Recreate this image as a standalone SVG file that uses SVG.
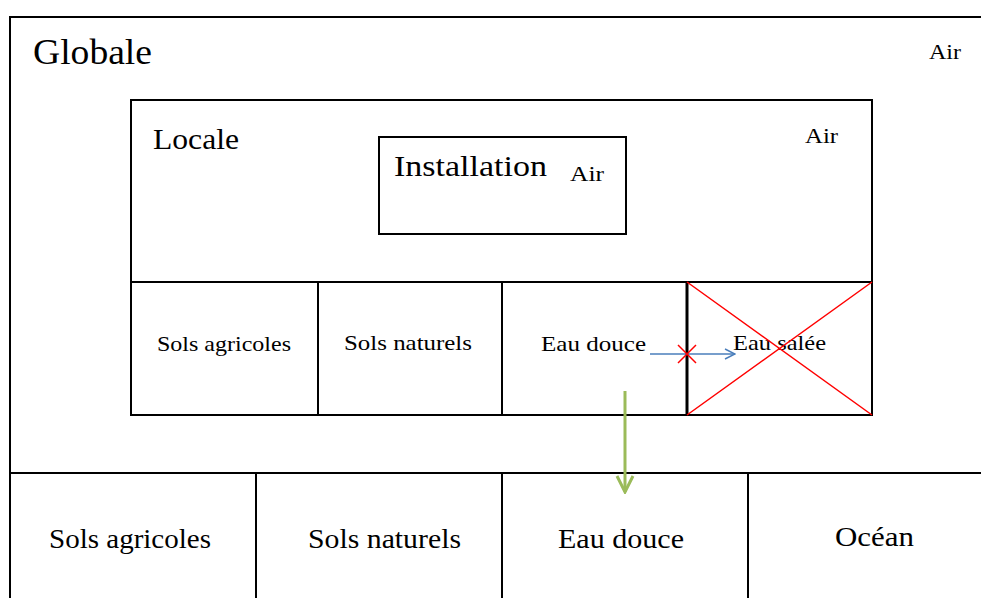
<svg xmlns="http://www.w3.org/2000/svg" width="981" height="598" viewBox="0 0 981 598">
  <defs>
    <style>
      .box { fill: none; stroke: #000; stroke-width: 2; }
      .t { font-family: "Liberation Serif", "DejaVu Serif", serif; fill: #000; }
      .cross { stroke: #ff0000; stroke-width: 1.5; fill: none; }
    </style>
    <marker id="headBlue" viewBox="0 0 12 12" refX="11" refY="6" markerWidth="12" markerHeight="12" markerUnits="userSpaceOnUse" orient="auto">
      <path d="M1,1 L11,6 L1,11" fill="none" stroke="#4a7ebb" stroke-width="1.5"/>
    </marker>
    <marker id="headGreen" viewBox="0 0 20 20" refX="18" refY="10" markerWidth="20" markerHeight="20" markerUnits="userSpaceOnUse" orient="auto">
      <path d="M2,2 L18,10 L2,18" fill="none" stroke="#9bbb59" stroke-width="3"/>
    </marker>
  </defs>
  <rect width="981" height="598" fill="#fff"/>

  <!-- Global compartment -->
  <g id="globale">
    <path class="box" d="M983,17 H10 V600"/>
    <text class="t" x="33" y="64" font-size="36" textLength="119" lengthAdjust="spacingAndGlyphs">Globale</text>
    <text class="t" x="929" y="59" font-size="22" textLength="32" lengthAdjust="spacingAndGlyphs">Air</text>
  </g>

  <!-- Global media row -->
  <g id="global-media">
    <path class="box" d="M10,473 H983 M256,473 V600 M502,473 V600 M748,473 V600"/>
    <text class="t" x="49" y="548" font-size="27" textLength="162" lengthAdjust="spacingAndGlyphs">Sols agricoles</text>
    <text class="t" x="308" y="548" font-size="27" textLength="153" lengthAdjust="spacingAndGlyphs">Sols naturels</text>
    <text class="t" x="558" y="548" font-size="27" textLength="126" lengthAdjust="spacingAndGlyphs">Eau douce</text>
    <text class="t" x="835" y="546" font-size="27" textLength="79" lengthAdjust="spacingAndGlyphs">Océan</text>
  </g>

  <!-- Local compartment -->
  <g id="locale">
    <rect class="box" x="131" y="100" width="741" height="315"/>
    <path class="box" d="M131,282 H872 M318,282 V415 M502,282 V415"/>
    <path d="M687,282 V415" stroke="#000" stroke-width="3"/>
    <text class="t" x="153" y="149" font-size="30" textLength="86" lengthAdjust="spacingAndGlyphs">Locale</text>
    <text class="t" x="805" y="143" font-size="22" textLength="33" lengthAdjust="spacingAndGlyphs">Air</text>
    <text class="t" x="157" y="351" font-size="22" textLength="134" lengthAdjust="spacingAndGlyphs">Sols agricoles</text>
    <text class="t" x="344" y="350" font-size="22" textLength="128" lengthAdjust="spacingAndGlyphs">Sols naturels</text>
    <text class="t" x="541" y="351" font-size="22" textLength="105" lengthAdjust="spacingAndGlyphs">Eau douce</text>
    <text class="t" x="733" y="350" font-size="22" textLength="93" lengthAdjust="spacingAndGlyphs">Eau salée</text>
  </g>

  <!-- Installation -->
  <g id="installation">
    <rect class="box" x="379" y="137" width="247" height="97"/>
    <text class="t" x="394" y="176" font-size="30" textLength="153" lengthAdjust="spacingAndGlyphs">Installation</text>
    <text class="t" x="570" y="181" font-size="22" textLength="34" lengthAdjust="spacingAndGlyphs">Air</text>
  </g>

  <!-- Connectors and exclusion marks -->
  <g id="connectors">
    <path class="cross" d="M687,282 L872,415 M687,415 L872,282"/>
    <path d="M650,354 H735" stroke="#4a7ebb" stroke-width="1.5" fill="none" marker-end="url(#headBlue)"/>
    <path class="cross" d="M678,345 L696,363 M678,363 L696,345" stroke-width="2"/>
    <path d="M625,391 V492" stroke="#9bbb59" stroke-width="3" fill="none" marker-end="url(#headGreen)"/>
  </g>
</svg>
